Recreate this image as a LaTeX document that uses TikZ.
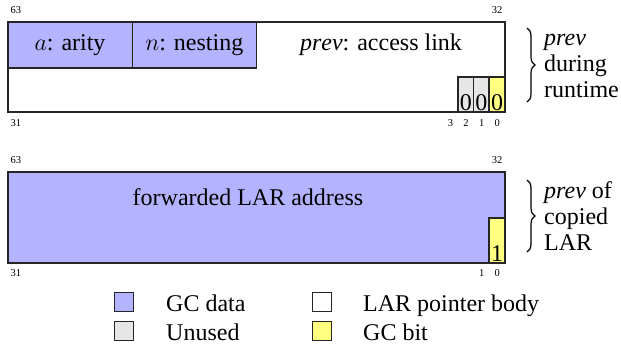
\documentclass[tikz,border=0pt]{standalone}
\usepackage{fix-cm}
\usepackage{fontspec}
\setmainfont{Liberation Serif}
\usetikzlibrary{decorations.pathreplacing}
\definecolor{gcdata}{RGB}{179,179,255}
\definecolor{unused}{RGB}{230,230,230}
\definecolor{gcbit}{RGB}{255,255,128}
\tikzset{
  cell/.style={draw=black!85, line width=1.1pt},
  big/.style={font=\fontsize{24}{26}\selectfont, inner sep=0pt},
  small/.style={font=\fontsize{10.5}{12}\selectfont, inner sep=0pt},
  bitdigit/.style={font=\fontsize{24}{26}\selectfont, inner sep=0pt, anchor=south},
  bracket/.style={decorate, decoration={brace, amplitude=8pt}, line width=1.2pt},
  legbox/.style={draw=black!85, line width=1pt, minimum width=19pt, minimum height=19pt, inner sep=0pt},
}
\begin{document}
\begin{tikzpicture}[x=1pt,y=-1pt]
\useasboundingbox (0,0) rectangle (621,349);
% ---------- register 1 ----------
\draw[cell, fill=white] (8,22) rectangle (505,112);
\draw[cell, fill=gcdata] (8,22) rectangle (132.2,68);
\draw[cell, fill=gcdata] (132.2,22) rectangle (256.5,68);
\node[big] (arity) at (70,45) {$a$: arity};
\node[big] (nest) at (194.3,45) {$n$: nesting};
\node[big] (prev) at (381,45) {$\mathit{prev}$: access link};
\draw[cell, fill=unused] (458,77) rectangle (473.5,112);
\draw[cell, fill=unused] (473.5,77) rectangle (489,112);
\draw[cell, fill=gcbit] (489,77) rectangle (505,112);
\node[bitdigit] (d2) at (465.8,111) {0};
\node[bitdigit] (d1) at (481.3,111) {0};
\node[bitdigit] (d0) at (497,111) {0};
\node[small] (l63a) at (15.8,10) {63};
\node[small] (l32a) at (497.2,10) {32};
\node[small] (l31a) at (15.8,123) {31};
\node[small] (l3a) at (450.6,123) {3};
\node[small] (l2a) at (466.1,123) {2};
\node[small] (l1a) at (481.7,123) {1};
\node[small] (l0a) at (497.2,123) {0};
\coordinate (b1t) at (527,28);
\coordinate (b1b) at (527,102);
\draw[bracket] (b1t) -- (b1b);
\node[big, anchor=west, align=left] (t1) at (544,66) {\textit{prev}\\during\\runtime};
% ---------- register 2 ----------
\draw[cell, fill=gcdata] (8,172) rectangle (505,263);
\node[big] (fwd) at (248,197) {forwarded LAR address};
\draw[cell, fill=gcbit] (489,218) rectangle (505,263);
\node[bitdigit] (e0) at (497,262) {1};
\node[small] (l63b) at (15.8,160) {63};
\node[small] (l32b) at (497.2,160) {32};
\node[small] (l31b) at (15.8,273) {31};
\node[small] (l1b) at (481.7,273) {1};
\node[small] (l0b) at (497.2,273) {0};
\coordinate (b2t) at (527,180);
\coordinate (b2b) at (527,252);
\draw[bracket] (b2t) -- (b2b);
\node[big, anchor=west, align=left] (t2) at (544,216) {\textit{prev} of\\copied\\LAR};
% ---------- legend ----------
\node[legbox, fill=gcdata] (k1) at (124,302) {};
\node[legbox, fill=unused] (k2) at (124,330.5) {};
\node[legbox, fill=white] (k3) at (322,302) {};
\node[legbox, fill=gcbit] (k4) at (322,330.5) {};
\node[big, anchor=base west] (k1t) at (166,311) {GC data};
\node[big, anchor=base west] (k2t) at (166,340) {Unused};
\node[big, anchor=base west] (k3t) at (363,311) {LAR pointer body};
\node[big, anchor=base west] (k4t) at (363,340) {GC bit};
\end{tikzpicture}
\end{document}
